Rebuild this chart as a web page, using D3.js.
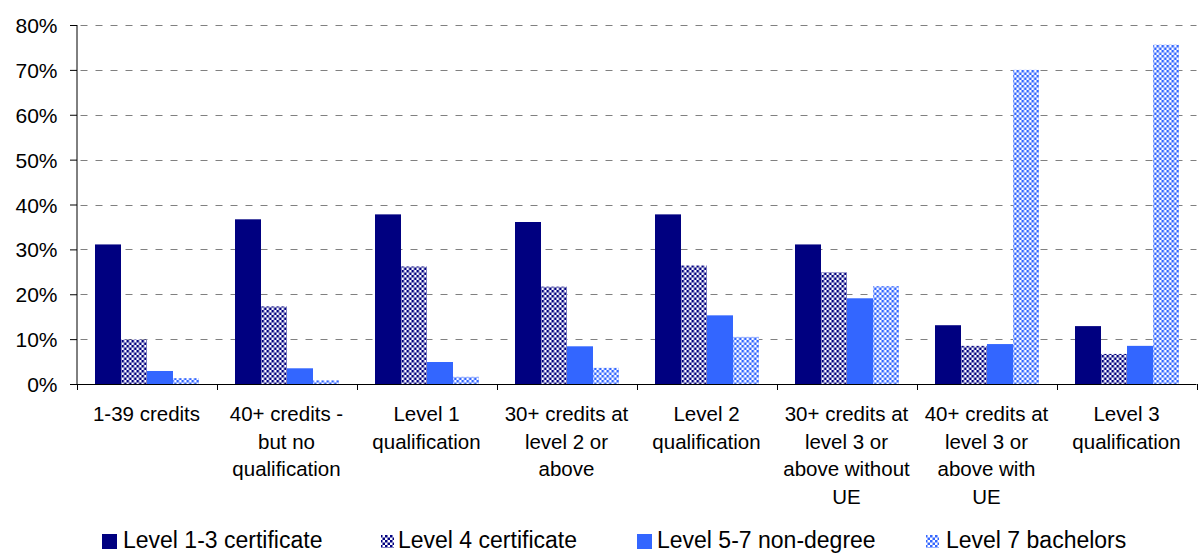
<!DOCTYPE html>
<html>
<head>
<meta charset="utf-8">
<script src="https://cdn.jsdelivr.net/npm/d3@7"></script>
<style>
  html, body { margin: 0; padding: 0; background: #fff; }
  svg { display: block; font-family: "Liberation Sans", Arial, sans-serif; }
</style>
</head>
<body>
<svg id="chart" width="1199" height="553"></svg>
<script>
// ---- data ----
const categoryLines = [
  ["1-39 credits"],
  ["40+ credits -", "but no", "qualification"],
  ["Level 1", "qualification"],
  ["30+ credits at", "level 2 or", "above"],
  ["Level 2", "qualification"],
  ["30+ credits at", "level 3 or", "above without", "UE"],
  ["40+ credits at", "level 3 or", "above with", "UE"],
  ["Level 3", "qualification"]
];
const categories = categoryLines.map(l => l.join(" "));
const seriesNames = ["Level 1-3 certificate", "Level 4 certificate", "Level 5-7 non-degree", "Level 7 bachelors"];
const level13 = [31.1, 36.7, 37.8, 36.1, 37.8, 31.1, 13.1, 12.9];
const level4  = [9.9, 17.3, 26.2, 21.7, 26.4, 24.9, 8.5, 6.7];
const level57 = [2.9, 3.5, 4.9, 8.4, 15.3, 19.1, 8.9, 8.5];
const level7  = [1.3, 0.8, 1.6, 3.6, 10.5, 21.8, 70.0, 75.6];
const yTicks = [0, 10, 20, 30, 40, 50, 60, 70, 80];

const seriesValues = [level13, level4, level57, level7];

(function () {
// ---- layout ----
const svg = d3.select("#chart");
const pLeft = 76.5, pRight = 1196.5, pTop = 25, pBottom = 384;

const x0 = d3.scaleBand().domain(categories).range([pLeft, pRight]).padding(0);
const x1 = d3.scaleBand().domain(seriesNames).range([18.5, 122.5]).padding(0);
const y = d3.scaleLinear().domain([0, 80]).range([pBottom, pTop]);

// patterns
const defs = svg.append("defs");
function checker(id, color) {
  const p = defs.append("pattern").attr("id", id)
    .attr("patternUnits", "userSpaceOnUse").attr("width", 5).attr("height", 5);
  p.append("rect").attr("width", 5).attr("height", 5).attr("fill", "#fff");
  p.append("rect").attr("x", 0).attr("y", 0).attr("width", 2.5).attr("height", 2.5).attr("fill", color);
  p.append("rect").attr("x", 2.5).attr("y", 2.5).attr("width", 2.5).attr("height", 2.5).attr("fill", color);
}
checker("pat4", "#000080");
checker("pat7", "#3366ff");
const fills = ["#000080", "url(#pat4)", "#3366ff", "url(#pat7)"];

// gridlines
svg.append("g").selectAll("line")
  .data(yTicks.filter(t => t > 0))
  .join("line")
  .attr("x1", pLeft).attr("x2", pRight)
  .attr("y1", d => Math.round(y(d)) + 0.5).attr("y2", d => Math.round(y(d)) + 0.5)
  .attr("stroke", "#808080").attr("stroke-width", 1)
  .attr("stroke-dasharray", "7,8").attr("stroke-dashoffset", -4);

// bars
const groups = svg.append("g").selectAll("g")
  .data(categories)
  .join("g")
  .attr("transform", d => `translate(${x0(d)},0)`);

groups.selectAll("rect")
  .data((d, i) => seriesNames.map((s, k) => ({ s, k, v: seriesValues[k][i] })))
  .join("rect")
  .attr("x", d => x1(d.s))
  .attr("width", x1.bandwidth())
  .attr("y", d => y(d.v))
  .attr("height", d => y(0) - y(d.v))
  .attr("fill", d => fills[d.k]);

// y axis
const yAxis = d3.axisLeft(y).tickValues(yTicks).tickSize(7).tickPadding(12)
  .tickFormat(d => d + "%");
const ya = svg.append("g").attr("transform", `translate(${pLeft},0)`).call(yAxis);
ya.select(".domain").attr("stroke", "#000").attr("d", `M0.5,${pTop}V${pBottom}`);
ya.selectAll(".tick line").attr("stroke", "#000").attr("transform", "translate(0.5,0)");
ya.selectAll(".tick text").attr("font-size", 21).attr("fill", "#000")
  .attr("font-family", "'Liberation Sans', Arial, sans-serif").attr("dy", "0.36em");

// x axis
const xa = svg.append("g");
xa.append("line").attr("x1", pLeft).attr("x2", pRight)
  .attr("y1", pBottom + 0.5).attr("y2", pBottom + 0.5).attr("stroke", "#000");
const boundaries = categories.map(c => x0(c)).concat([pRight]);
xa.selectAll("line.tk").data(boundaries).join("line").attr("class", "tk")
  .attr("x1", d => Math.round(d) + 0.5).attr("x2", d => Math.round(d) + 0.5)
  .attr("y1", pBottom).attr("y2", pBottom + 6).attr("stroke", "#000");

xa.selectAll("text.lbl").data(categories).join("text").attr("class", "lbl")
  .attr("x", d => x0(d) + x0.bandwidth() / 2)
  .attr("y", 421)
  .attr("text-anchor", "middle")
  .attr("font-size", 20.5)
  .attr("fill", "#000")
  .each(function (d, i) {
    const t = d3.select(this);
    categoryLines[i].forEach((line, j) => {
      t.append("tspan").attr("x", x0(d) + x0.bandwidth() / 2)
        .attr("dy", j === 0 ? 0 : 27.7).text(line);
    });
  });

// legend
const legendSquareX = [102, 381, 637, 926];
const legendTextX = [123, 398, 657, 946];
const leg = svg.append("g");
seriesNames.forEach((s, k) => {
  leg.append("rect").attr("x", legendSquareX[k]).attr("y", k % 2 ? 535 : 534)
    .attr("width", k % 2 ? 13 : 15).attr("height", k % 2 ? 13 : 15).attr("fill", fills[k]);
  leg.append("text").attr("x", legendTextX[k]).attr("y", 548)
    .attr("font-size", 23).attr("fill", "#000").text(s);
});
})();
</script>
</body>
</html>
